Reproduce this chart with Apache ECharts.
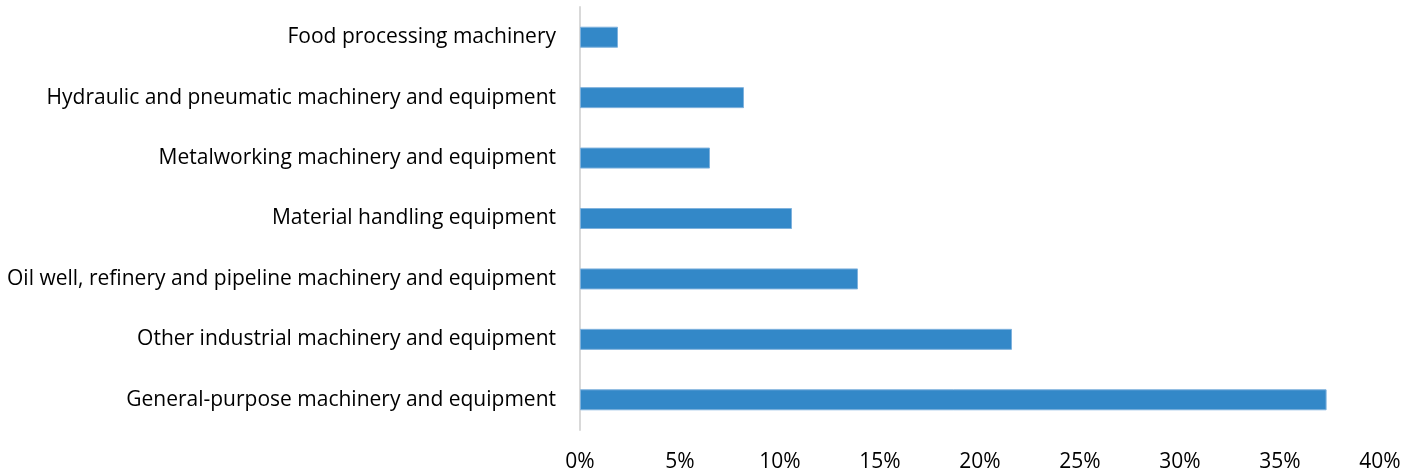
<!DOCTYPE html>
<html>
<head>
<meta charset="utf-8">
<script src="https://cdn.jsdelivr.net/npm/echarts@6/dist/echarts.min.js"></script>
<style>
  html, body { margin: 0; padding: 0; background: #fff; }
  #chart { width: 1419px; height: 474px; }
</style>
</head>
<body>
<div id="chart"></div>
<script>
// categories bottom to top (category axis starts at bottom)
const categories = [
  'General-purpose machinery and equipment',
  'Other industrial machinery and equipment',
  'Oil well, refinery and pipeline machinery and equipment',
  'Material handling equipment',
  'Metalworking machinery and equipment',
  'Hydraulic and pneumatic machinery and equipment',
  'Food processing machinery'
]
const shares = [37.33, 21.6, 13.9, 10.6, 6.5, 8.2, 1.9]

const chart = echarts.init(document.getElementById('chart'))
const font = '"Open Sans", sans-serif'

chart.setOption({
  animation: false,
  grid: { left: 580, right: 39, top: 7, bottom: 44 },
  xAxis: {
    type: 'value',
    min: 0,
    max: 40,
    interval: 5,
    axisLine: { show: false },
    axisTick: { show: false },
    splitLine: { show: false },
    axisLabel: {
      formatter: v => v + '%',
      color: '#000',
      fontSize: 21,
      fontFamily: font,
      margin: 22
    }
  },
  yAxis: {
    type: 'category',
    data: categories,
    axisLine: { lineStyle: { color: '#D9D9D9', width: 2 } },
    axisTick: { show: false },
    axisLabel: {
      color: '#000',
      fontSize: 21,
      fontFamily: font,
      margin: 24,
      padding: [4, 0, 0, 0]
    }
  },
  series: [{
    type: 'bar',
    data: shares,
    barWidth: 21,
    itemStyle: { color: '#3388C8', borderColor: '#7FB2DD', borderWidth: 1 }
  }]
})
</script>
</body>
</html>
